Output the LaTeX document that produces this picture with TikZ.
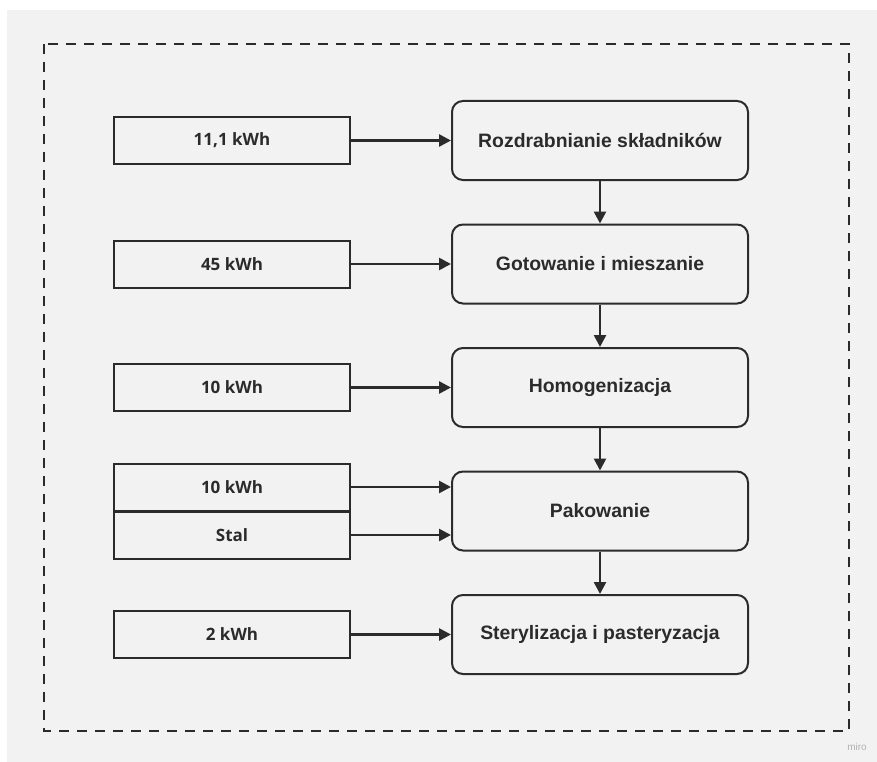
\documentclass[tikz,border=0pt]{standalone}
\usepackage{fontspec}
\setmainfont{Liberation Sans}
\newfontfamily\lefttxt{Open Sans}
\usetikzlibrary{arrows.meta}
\definecolor{bggrey}{HTML}{F2F2F2}
\definecolor{ink}{HTML}{2B2B2B}
\tikzset{
  inbox/.style={draw=ink, line width=2pt, minimum width=236pt, minimum height=47pt, inner sep=0pt, font=\lefttxt\bfseries\fontsize{17}{20}\selectfont, text=ink},
  procbox/.style={draw=ink, line width=2pt, rounded corners=11pt, minimum width=296pt, minimum height=79pt, inner sep=0pt, font=\bfseries\fontsize{19.4}{23}\selectfont, text=ink},
  flow/.style={draw=ink, line width=2.6pt, -{Triangle[length=12pt,width=12pt]}}
}
\begin{document}
\begin{tikzpicture}[x=1pt,y=-1pt]
\useasboundingbox (0,0) rectangle (877,762);
\fill[white] (0,0) rectangle (877,762);
\fill[bggrey] (7,10) rectangle (877,762);
\draw[ink, line width=2pt, dash pattern=on 10pt off 8pt] (44,44) rectangle (849,731);
\node[text=gray!60, font=\fontsize{10}{11}\selectfont] (miro) at (857,747) {miro};

\node[procbox] (p1) at (600,140.5) {Rozdrabnianie składników};
\node[procbox] (p2) at (600,264) {Gotowanie i mieszanie};
\node[procbox] (p3) at (600,387.5) {Homogenizacja};
\node[procbox] (p4) at (600,511) {Pakowanie};
\node[procbox] (p5) at (600,634.5) {Sterylizacja i pasteryzacja};

\node[inbox] (i1) at (232,140.5) {11,1 kWh};
\node[inbox] (i2) at (232,264) {45 kWh};
\node[inbox] (i3) at (232,387.5) {10 kWh};
\node[inbox] (i4a) at (232,487) {10 kWh};
\node[inbox] (i4b) at (232,535) {Stal};
\node[inbox] (i5) at (232,634.5) {2 kWh};
\draw[ink, line width=3.5pt] (i4a.south west) -- (i4a.south east);

\draw[flow] (i1) -- (p1);
\draw[flow] (i2) -- (p2);
\draw[flow] (i3) -- (p3);
\draw[flow] (i4a.east) -- (i4a.east -| p4.west);
\draw[flow] (i4b.east) -- (i4b.east -| p4.west);
\draw[flow] (i5) -- (p5);

\draw[flow] (p1) -- (p2);
\draw[flow] (p2) -- (p3);
\draw[flow] (p3) -- (p4);
\draw[flow] (p4) -- (p5);
\end{tikzpicture}
\end{document}
